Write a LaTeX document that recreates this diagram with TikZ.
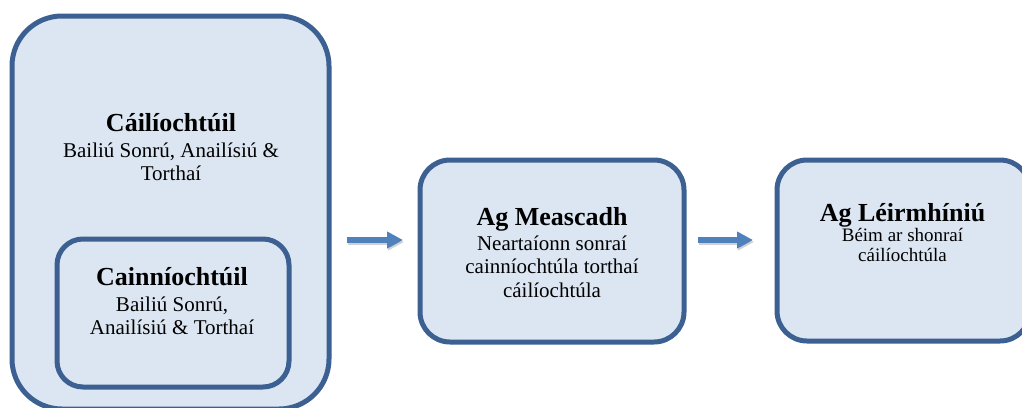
\documentclass[tikz,border=0pt]{standalone}
\usepackage{fontspec}
\setmainfont{Liberation Serif}
\usetikzlibrary{arrows.meta}
\definecolor{boxline}{HTML}{3B6091}
\definecolor{boxfill}{HTML}{DCE6F2}
\definecolor{arrowblue}{HTML}{4F81BD}
\tikzset{
  panel/.style={draw=boxline, fill=boxfill, line width=5pt, inner sep=0pt, outer sep=0pt},
  headline/.style={anchor=base, inner sep=0pt, font=\fontsize{26}{30}\selectfont\bfseries},
  bodyline/.style={anchor=base, inner sep=0pt, font=\fontsize{21}{24}\selectfont},
  smallline/.style={anchor=base, inner sep=0pt, font=\fontsize{19}{22}\selectfont},
  flow/.style={arrowblue, line width=6pt, -{Triangle[length=16pt,width=16pt]}},
  flowshadow/.style={black, opacity=0.18, line width=6pt, -{Triangle[length=16pt,width=16pt]}},
}
\begin{document}
\begin{tikzpicture}[x=1pt, y=-1pt]
  \useasboundingbox (0,0) rectangle (1022,407);
  \clip (0,0) rectangle (1022,407);

  % qualitative stage with the nested quantitative stage
  \node[panel, rounded corners=50pt, minimum width=317pt, minimum height=393pt] (outer) at (170.5,212.5) {};
  \node[headline] (outerhead) at (171,131) {Cáilíochtúil};
  \node[bodyline] (outerbodya) at (171,157) {Bailiú Sonrú, Anailísiú \&};
  \node[bodyline] (outerbodyb) at (171,180) {Torthaí};

  \node[panel, rounded corners=26pt, minimum width=232pt, minimum height=148pt] (inner) at (173,313) {};
  \node[headline] (innerhead) at (172,285) {Cainníochtúil};
  \node[bodyline] (innerbodya) at (172,311) {Bailiú Sonrú,};
  \node[bodyline] (innerbodyb) at (172,334.5) {Anailísiú \& Torthaí};

  % mixing stage
  \node[panel, rounded corners=30pt, minimum width=264pt, minimum height=182pt] (mix) at (552,251) {};
  \node[headline] (mixhead) at (552,225) {Ag Meascadh};
  \node[bodyline] (mixbodya) at (552,250) {Neartaíonn sonraí};
  \node[bodyline] (mixbodyb) at (552,273.5) {cainníochtúla torthaí};
  \node[bodyline] (mixbodyc) at (552,297) {cáilíochtúla};

  % interpretation stage
  \node[panel, rounded corners=30pt, minimum width=253pt, minimum height=181pt] (interp) at (903.5,250.5) {};
  \node[headline] (interphead) at (902.5,221) {Ag Léirmhíniú};
  \node[smallline] (interpbodya) at (902.5,241) {Béim ar shonraí};
  \node[smallline] (interpbodyb) at (902.5,261.5) {cáilíochtúla};

  % flow arrows between the stages
  \coordinate (flowonefrom) at (347,240);
  \coordinate (flowoneto) at (403,240);
  \coordinate (flowtwofrom) at (698,240);
  \coordinate (flowtwoto) at (753,240);
  \draw[flowshadow, transform canvas={shift={(1pt,-2pt)}}] (flowonefrom) -- (flowoneto);
  \draw[flowshadow, transform canvas={shift={(1pt,-2pt)}}] (flowtwofrom) -- (flowtwoto);
  \draw[flow] (flowonefrom) -- (flowoneto);
  \draw[flow] (flowtwofrom) -- (flowtwoto);
\end{tikzpicture}
\end{document}
